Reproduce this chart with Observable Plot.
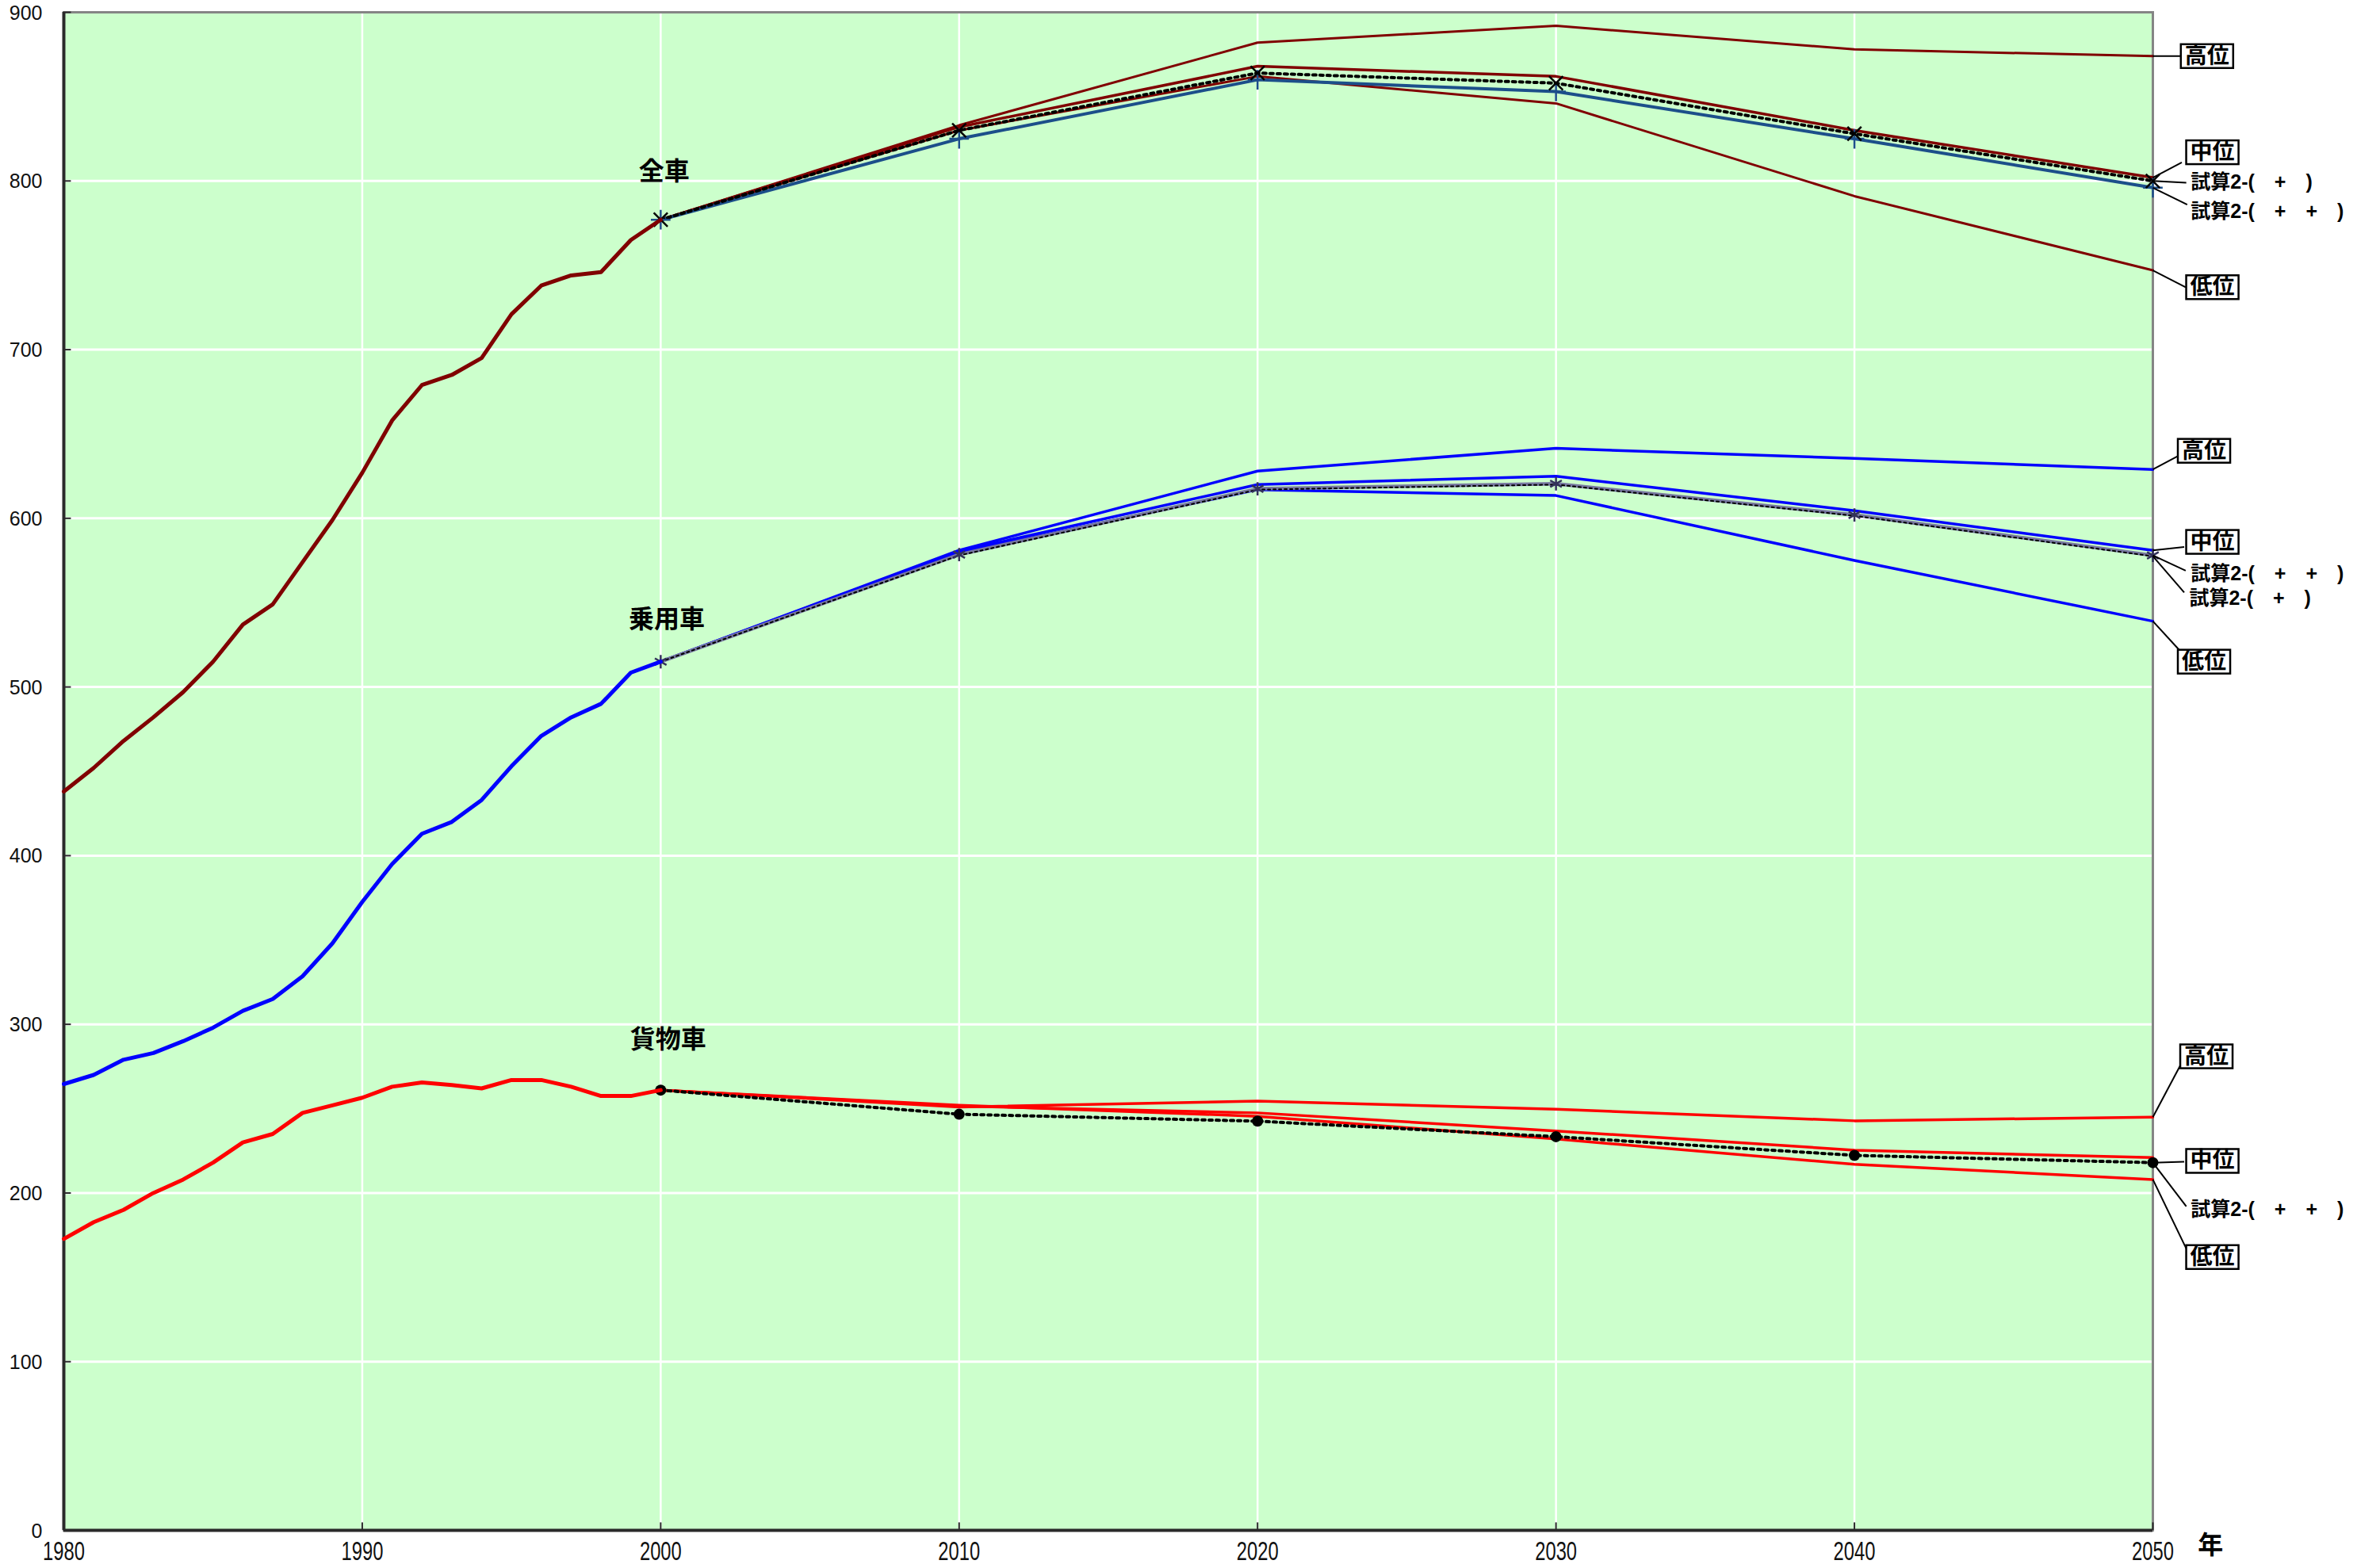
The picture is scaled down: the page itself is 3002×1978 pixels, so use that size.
<!DOCTYPE html>
<html><head><meta charset="utf-8">
<script src="https://cdn.jsdelivr.net/npm/d3@7"></script>
<script src="https://cdn.jsdelivr.net/npm/@observablehq/plot@0.6"></script>
<style>
html,body{margin:0;padding:0;background:#fff;}
#chart{width:3002px;height:1978px;overflow:hidden}
</style></head><body><div id="chart"></div>
<script>
// ---------- data ----------
const histYears = [1980,1981,1982,1983,1984,1985,1986,1987,1988,1989,1990,1991,1992,1993,1994,1995,1996,1997,1998,1999,2000];
const histAll   = [438,452,468,482,497,515,537,549,574,599,627,658,679,685,695,721,738,744,746,765,777];
const histCar   = [264.6,270,279,283,290,298,308,315,328.5,348,372.6,395,413,420,433,453,471,482,490,508.5,515];
const histTruck = [172.8,182.7,190,200,208,218,230,235,247.5,252,256.5,263,265.5,264,262,267,267,263,257.5,257.5,261];

const projYears = [2000,2010,2020,2030,2040,2050];
const allHigh  = [777,833,882,892,878,874];
const allMid   = [777,832,868,862,830,802];
const allLow   = [777,830,862,846,791,747];
const allCalcA = [777,830,864,858,828,800];   // 試算2-( + )
const allCalcB = [777,825,860,853,825,796];   // 試算2-( + + )

const carHigh  = [515,581,628,641.5,635.5,629];
const carMid   = [515,580.5,620,625,604.5,581];
const carLow   = [515,579.5,617,613.5,575,539];
const carCalcB = [515,578.5,617.5,620.5,602,578];  // 試算2-( + + )
const carCalcA = [515,578,617,620,601.5,577.5];    // 試算2-( + )

const truckHigh = [261,251,254.5,249.7,242.8,245];
const truckMid  = [261,251.5,247.5,236.8,225.4,221];
const truckLow  = [261,252,245.5,232,217,208];
const truckCalc = [261,246.7,242.6,233.4,222.3,218];

const groupNames = ["全車","乗用車","貨物車"];
const yTicks = [0,100,200,300,400,500,600,700,800,900];
const xTicks = [1980,1990,2000,2010,2020,2030,2040,2050];
const calcA = "試算2-(　+　)";
const calcB = "試算2-(　+　+　)";

// ---------- tables ----------
const rows = (years, vals, key) => years.map((year, i) => ({year, value: vals[i], key}));
const series = {
  allHist: rows(histYears, histAll, "allHist"),
  carHist: rows(histYears, histCar, "carHist"),
  truckHist: rows(histYears, histTruck, "truckHist"),
  allHigh: rows(projYears, allHigh, "allHigh"), allMid: rows(projYears, allMid, "allMid"),
  allLow: rows(projYears, allLow, "allLow"), allCalcA: rows(projYears, allCalcA, "allCalcA"),
  allCalcB: rows(projYears, allCalcB, "allCalcB"),
  carHigh: rows(projYears, carHigh, "carHigh"), carMid: rows(projYears, carMid, "carMid"),
  carLow: rows(projYears, carLow, "carLow"), carCalcA: rows(projYears, carCalcA, "carCalcA"),
  carCalcB: rows(projYears, carCalcB, "carCalcB"),
  truckHigh: rows(projYears, truckHigh, "truckHigh"), truckMid: rows(projYears, truckMid, "truckMid"),
  truckLow: rows(projYears, truckLow, "truckLow"), truckCalc: rows(projYears, truckCalc, "truckCalc")
};
const last = k => series[k][series[k].length - 1].value;

// callouts: label, boxed?, source series, leader end (year,value), text anchor (year,value)
const callouts = [
  {label:"高位", boxed:true,  src:"allHigh",  lx:2050.93, ly:874, tx:2051.07, ty:874},
  {label:"中位", boxed:true,  src:"allMid",   lx:2050.97, ly:811, tx:2051.25, ty:817},
  {label:calcA,  boxed:false, src:"allCalcA", lx:2051.12, ly:799, tx:2051.27, ty:799},
  {label:calcB,  boxed:false, src:"allCalcB", lx:2051.15, ly:786, tx:2051.27, ty:782},
  {label:"低位", boxed:true,  src:"allLow",   lx:2051.1,  ly:737, tx:2051.25, ty:737},
  {label:"高位", boxed:true,  src:"carHigh",  lx:2050.85, ly:637, tx:2050.97, ty:640},
  {label:"中位", boxed:true,  src:"carMid",   lx:2051.05, ly:583, tx:2051.25, ty:586},
  {label:calcB,  boxed:false, src:"carCalcB", lx:2051.1,  ly:569, tx:2051.27, ty:567},
  {label:calcA,  boxed:false, src:"carCalcA", lx:2051.05, ly:556, tx:2051.22, ty:552.6},
  {label:"低位", boxed:true,  src:"carLow",   lx:2050.88, ly:522, tx:2050.97, ty:515},
  {label:"高位", boxed:true,  src:"truckHigh",lx:2050.93, ly:276, tx:2051.05, ty:281},
  {label:"中位", boxed:true,  src:"truckCalc",lx:2051.05, ly:218.5, tx:2051.25, ty:219},
  {label:calcB,  boxed:false, src:"truckCalc",lx:2051.12, ly:192, tx:2051.27, ty:190},
  {label:"低位", boxed:true,  src:"truckLow", lx:2051.12, ly:167, tx:2051.25, ty:162}
].map(d => ({...d, from: last(d.src)}));

const groupLabels = [
  {text: groupNames[0], x: 2000.12, y: 805.5},
  {text: groupNames[1], x: 2000.2,  y: 540},
  {text: groupNames[2], x: 2000.25, y: 290.7}
];

// ---------- plot ----------
const FONT = "'Liberation Sans', Arial, 'Noto Sans CJK JP', sans-serif";
const line = (k, stroke, strokeWidth, extra={}) =>
  Plot.line(series[k], {x:"year", y:"value", stroke, strokeWidth, strokeLinejoin:"round", ...extra});
const dotted = {strokeDasharray:"4,5"};

const chart = Plot.plot({
  width: 3002, height: 1978,
  marginLeft: 80, marginRight: 287, marginTop: 15, marginBottom: 48,
  x: {domain:[1980,2050], axis:null},
  y: {domain:[0,900], axis:null},
  style: {background:"white", fontFamily: FONT, overflow:"visible"},
  marks: [
    Plot.frame({fill:"#CCFFCC", stroke:null}),
    Plot.ruleY(yTicks.filter(v => v > 0 && v < 900), {stroke:"white", strokeWidth:3}),
    Plot.ruleX(xTicks.filter(v => v > 1980 && v < 2050), {stroke:"white", strokeWidth:2.5}),
    Plot.frame({stroke:"#858585", strokeWidth:3}),
    Plot.ruleX([1980], {stroke:"#2a2a2a", strokeWidth:4}),
    Plot.ruleY([0], {stroke:"#2a2a2a", strokeWidth:4}),
    Plot.ruleY(yTicks, {x1:1980, x2:1980.25, stroke:"#2a2a2a", strokeWidth:2}),
    Plot.ruleX(xTicks, {y1:0, y2:4.5, stroke:"#2a2a2a", strokeWidth:2}),
    Plot.text(yTicks, {x:1980, y:d=>d, text:d=>String(d), textAnchor:"end", dx:-27, dy:1, fontSize:25, fill:"#111"}),
    Plot.text(xTicks, {x:d=>d, y:0, text:d=>String(d), dy:27, fontSize:34, fill:"#111", className:"xlab"}),

    // projections 全車
    line("allHigh", "#800000", 3),
    line("allMid", "#800000", 3.5),
    line("allLow", "#800000", 3),
    line("allCalcB", "#1C4F8A", 4),
    line("allCalcA", "black", 4, dotted),
    Plot.dot(series.allCalcB, {x:"year", y:"value", symbol:"plus", r:8, stroke:"#1C4F8A", strokeWidth:2.5}),
    Plot.dot(series.allCalcA, {x:"year", y:"value", symbol:"times", r:8, stroke:"black", strokeWidth:2.5}),

    // projections 乗用車
    line("carHigh", "#0000FF", 3.5),
    line("carMid", "#0000FF", 3.5),
    line("carLow", "#0000FF", 3.5),
    line("carCalcB", "#7777A0", 4.5),
    line("carCalcA", "black", 2, {strokeDasharray:"3,4"}),
    Plot.dot(series.carCalcB, {x:"year", y:"value", symbol:"asterisk", r:8, stroke:"#33335a", strokeWidth:2.5}),

    // projections 貨物車
    line("truckHigh", "#FF0000", 3.5),
    line("truckMid", "#FF0000", 3.5),
    line("truckLow", "#FF0000", 3.5),
    line("truckCalc", "black", 4, dotted),
    Plot.dot(series.truckCalc, {x:"year", y:"value", r:7, fill:"black"}),

    // history
    line("allHist", "#800000", 5),
    line("carHist", "#0000FF", 5),
    line("truckHist", "#FF0000", 5),

    // group labels
    Plot.text(groupLabels, {x:"x", y:"y", text:"text", fontSize:32, fontWeight:"bold", fill:"black"}),

    // callouts
    Plot.link(callouts, {x1:2050, y1:"from", x2:"lx", y2:"ly", stroke:"black", strokeWidth:2}),
    Plot.text(callouts.filter(d => d.boxed), {x:"tx", y:"ty", text:"label", textAnchor:"start", fontSize:28, fontWeight:"bold", fill:"black", className:"boxed"}),
    Plot.text(callouts.filter(d => !d.boxed), {x:"tx", y:"ty", text:"label", textAnchor:"start", fontSize:25, fontWeight:"bold", fill:"black"}),

    // axis unit
    Plot.text(["年"], {x:2051.93, y:-9, text:d=>d, fontSize:32, fontWeight:"bold", fill:"black"})
  ]
});

document.getElementById("chart").append(chart);
const svg = chart.tagName.toLowerCase() === "svg" ? chart : chart.querySelector("svg");

// condensed x tick labels
svg.querySelectorAll("g.xlab text").forEach(t => {
  const tr = t.getAttribute("transform");
  if (tr) t.setAttribute("transform", tr + " scale(0.7,1)");
  else {
    const x = +t.getAttribute("x") || 0;
    t.setAttribute("transform", `translate(${x},0) scale(0.7,1)`);
    t.setAttribute("x", 0);
  }
});

// boxes behind boxed labels
svg.querySelectorAll("g.boxed text").forEach(t => {
  const b = t.getBBox();
  const r = document.createElementNS("http://www.w3.org/2000/svg", "rect");
  r.setAttribute("x", b.x - 5);
  r.setAttribute("y", b.y + 1);
  r.setAttribute("width", b.width + 10);
  r.setAttribute("height", b.height - 1);
  r.setAttribute("fill", "white");
  r.setAttribute("stroke", "black");
  r.setAttribute("stroke-width", 2.5);
  const tr = t.getAttribute("transform");
  if (tr) r.setAttribute("transform", tr);
  t.parentNode.insertBefore(r, t);
});
</script>
</body></html>
